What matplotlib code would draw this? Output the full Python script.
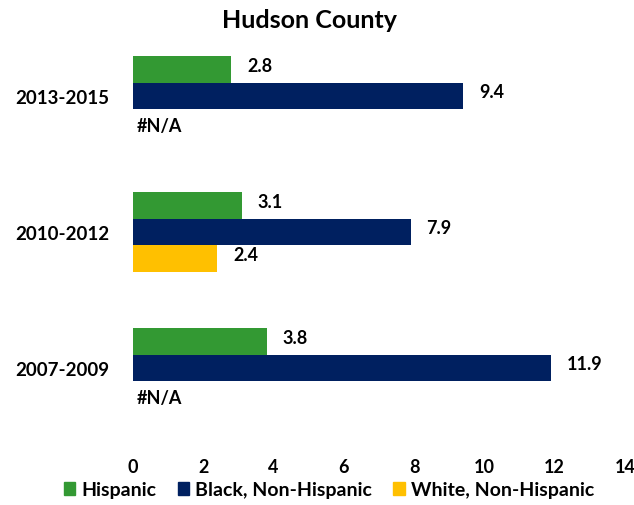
import numpy as np
import matplotlib
matplotlib.use("Agg")
from matplotlib import pyplot as plt
from matplotlib.patches import Patch

plt.rcParams['font.family'] = ['Lato', 'DejaVu Sans']
plt.rcParams['font.weight'] = 'bold'

# dados
periods = ['2007-2009', '2010-2012', '2013-2015']
hispanic = [3.8, 3.1, 2.8]
black = [11.9, 7.9, 9.4]
white = [None, 2.4, None]
series = ['Hispanic', 'Black, Non-Hispanic', 'White, Non-Hispanic']
colors = ['#339933', '#002060', '#FFC000']

fig = plt.figure(figsize=(6.34, 5.06), dpi=100)
ax = fig.add_axes([133/634, (506-437)/506, (625-133)/634, 408/506])

y = np.arange(len(periods))
h = 0.195
offsets = [h, 0, -h]

for vals, off, col in zip([hispanic, black, white], offsets, colors):
    for yi, v in zip(y, vals):
        if v is None:
            ax.text(0.1, yi + off - 0.02, '#N/A', ha='left', va='center', fontsize=13, fontweight='bold')
            continue
        ax.barh(yi + off, v, height=h, color=col)
        ax.text(v + 0.45, yi + off + 0.03, f'{v:.1f}', ha='left', va='center', fontsize=13, fontweight='bold')

ax.set_xlim(0, 14)
ax.set_ylim(-0.5, 2.5)
ax.set_xticks(range(0, 15, 2))
ax.set_yticks(y)
ax.set_yticklabels(periods, fontsize=13.5, fontweight='bold')
ax.tick_params(axis='x', labelsize=13, length=0, pad=16)
ax.tick_params(axis='y', length=0, pad=17)
for lbl in ax.get_xticklabels():
    lbl.set_fontweight('bold')
for s in ['top', 'right', 'bottom', 'left']:
    ax.spines[s].set_visible(False)

fig.text(310/634, 1 - 20/506, 'Hudson County', ha='center', va='center', fontsize=18, fontweight='bold')

handles = [Patch(color=c, label=s) for c, s in zip(colors, series)]
fig.legend(handles=handles, loc='center', bbox_to_anchor=(329/634, 1 - 491/506), ncol=3,
           frameon=False, fontsize=14, handlelength=0.6, handleheight=0.6,
           handletextpad=0.3, columnspacing=1.1)

fig.savefig('out.png', dpi=100)
